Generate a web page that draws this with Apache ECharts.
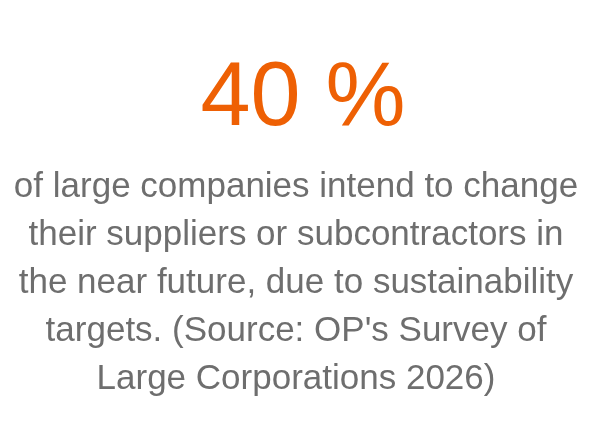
<!DOCTYPE html>
<html><head><meta charset="utf-8">
<script src="https://cdn.jsdelivr.net/npm/echarts@6/dist/echarts.min.js"></script>
<style>html,body{margin:0;padding:0;background:#fff}#c{width:592px;height:448px}</style>
</head><body><div id="c"></div>
<script>
var headline = "40 %";
var descriptionLines = [
  "of large companies intend to change",
  "their suppliers or subcontractors in",
  "the near future, due to sustainability",
  "targets. (Source: OP's Survey of",
  "Large Corporations 2026)"
];
var chart = echarts.init(document.getElementById('c'));
var elements = [{
  type: 'text', x: 303, y: 55,
  style: { text: headline, fill: '#ee6004', font: '90px "Liberation Sans"', align: 'center', verticalAlign: 'top' }
}];
descriptionLines.forEach(function (t, i) {
  elements.push({
    type: 'text', x: 296, y: 170 + i * 48,
    style: { text: t, fill: '#6e6e6e', font: '35px "Liberation Sans"', align: 'center', verticalAlign: 'top' }
  });
});
chart.setOption({ backgroundColor: '#fff', graphic: { elements: elements } });
</script></body></html>
